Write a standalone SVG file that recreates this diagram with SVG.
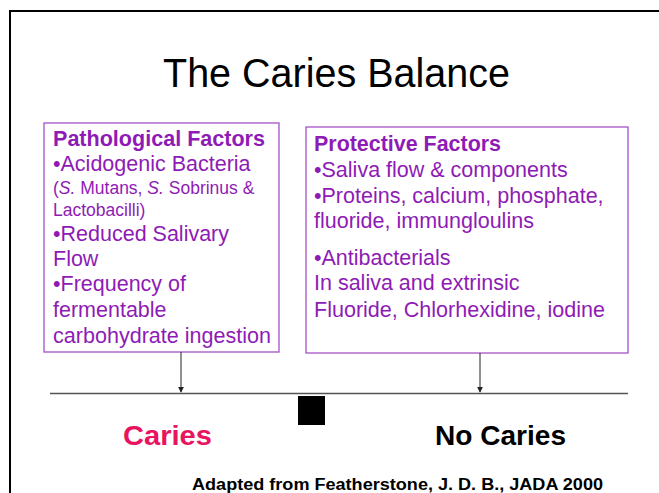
<svg xmlns="http://www.w3.org/2000/svg" width="659" height="493" viewBox="0 0 659 493">
<defs>
<style>
.t{font-family:"Liberation Sans",Arial,sans-serif;}
.p{fill:#8E1BB5;font-size:21.5px;}
.ps{fill:#8E1BB5;font-size:17.5px;}
.b{font-weight:bold;}
.box{fill:none;stroke:#A552C8;stroke-width:1.3;}
.c{stroke:#222;stroke-width:1;fill:none;}
</style>
<marker id="ah" viewBox="0 0 8 8" refX="7" refY="4" markerWidth="6" markerHeight="6" orient="auto" markerUnits="userSpaceOnUse">
<path d="M0,0 L8,4 L0,8 z" fill="#222"/>
</marker>
</defs>
<rect width="659" height="493" fill="#fff"/>
<path d="M10,493 V11 H659" fill="none" stroke="#000" stroke-width="2"/>
<text class="t" x="336.5" y="87" font-size="40" text-anchor="middle" textLength="347" lengthAdjust="spacingAndGlyphs" fill="#000">The Caries Balance</text>

<g id="pathological">
<rect class="box" x="44" y="123" width="235" height="229"/>
<text class="t p b" x="53" y="146" textLength="212" lengthAdjust="spacingAndGlyphs">Pathological Factors</text>
<text class="t p" x="53" y="171">•Acidogenic Bacteria</text>
<text class="t ps" x="53" y="194">(<tspan font-style="italic">S.</tspan> Mutans, <tspan font-style="italic">S.</tspan> Sobrinus &amp;</text>
<text class="t ps" x="53" y="216">Lactobacilli)</text>
<text class="t p" x="53" y="241">•Reduced Salivary</text>
<text class="t p" x="53" y="266">Flow</text>
<text class="t p" x="53" y="291">•Frequency of</text>
<text class="t p" x="53" y="317">fermentable</text>
<text class="t p" x="53" y="343" textLength="218" lengthAdjust="spacingAndGlyphs">carbohydrate ingestion</text>
</g>

<g id="protective">
<rect class="box" x="306" y="127" width="322" height="226"/>
<text class="t p b" x="314" y="151" textLength="187" lengthAdjust="spacingAndGlyphs">Protective Factors</text>
<text class="t p" x="314" y="177">•Saliva flow &amp; components</text>
<text class="t p" x="314" y="203">•Proteins, calcium, phosphate,</text>
<text class="t p" x="314" y="228">fluoride, immungloulins</text>
<text class="t p" x="314" y="265">•Antibacterials</text>
<text class="t p" x="314" y="290">In saliva and extrinsic</text>
<text class="t p" x="314" y="317" textLength="291" lengthAdjust="spacingAndGlyphs">Fluoride, Chlorhexidine, iodine</text>
</g>

<g id="connectors">
<line class="c" x1="181" y1="352" x2="181" y2="392" marker-end="url(#ah)"/>
<line class="c" x1="480" y1="353" x2="480" y2="392" marker-end="url(#ah)"/>
</g>

<g id="balance">
<line x1="50" y1="393.5" x2="628" y2="393.5" stroke="#555" stroke-width="1.5"/>
<rect x="298" y="396" width="27" height="29" fill="#000"/>
</g>

<g id="caries">
<text class="t b" x="123" y="445" font-size="28" textLength="89" lengthAdjust="spacingAndGlyphs" fill="#E8145F">Caries</text>
</g>
<g id="nocaries">
<text class="t b" x="435" y="445" font-size="28" textLength="131" lengthAdjust="spacingAndGlyphs" fill="#000">No Caries</text>
</g>
<text class="t b" x="192" y="490" font-size="16" textLength="411" lengthAdjust="spacingAndGlyphs" fill="#000">Adapted from Featherstone, J. D. B., JADA 2000</text>
</svg>
